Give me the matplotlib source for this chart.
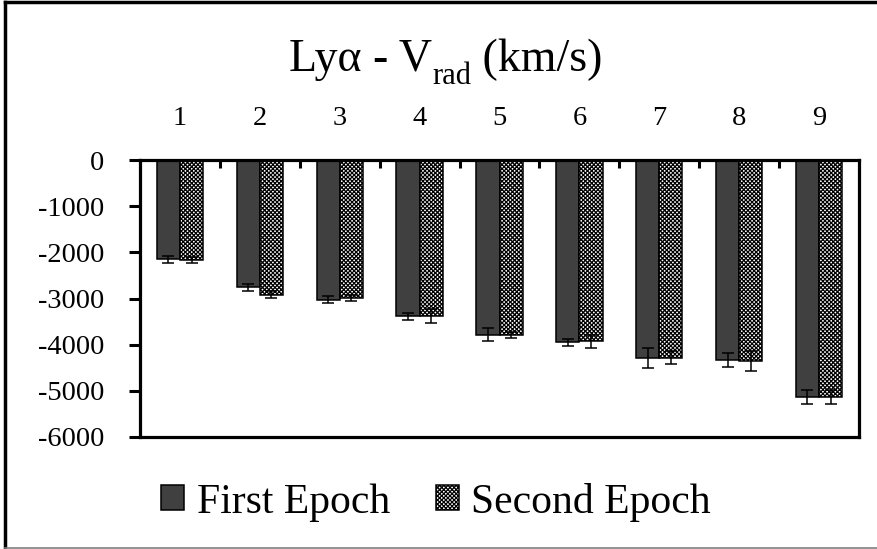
import matplotlib
matplotlib.use("Agg")
import matplotlib.pyplot as plt
import numpy as np
from matplotlib.lines import Line2D

# ── Datos ────────────────────────────────────────────────────────────────────
categorias = ["1", "2", "3", "4", "5", "6", "7", "8", "9"]
primera = [-2150, -2760, -3030, -3380, -3780, -3950, -4280, -4330, -5130]
primera_err = [80, 70, 75, 75, 145, 75, 215, 150, 145]
segunda = [-2170, -2920, -2990, -3370, -3780, -3930, -4280, -4350, -5130]
segunda_err = [70, 75, 70, 150, 65, 150, 145, 215, 145]
yticks = [0, -1000, -2000, -3000, -4000, -5000, -6000]

plt.rcParams["font.family"] = ["Liberation Serif", "DejaVu Serif"]
plt.rcParams["hatch.linewidth"] = 0.9

fig = plt.figure(figsize=(8.77, 5.49), dpi=100)
ax = fig.add_axes([140 / 877, 1 - 437 / 549, 719 / 877, 277 / 549])

x = np.arange(1, len(categorias) + 1)
w = 0.29
err_kw = dict(ecolor="black", elinewidth=1.1, capsize=4.3, capthick=1.1)
ax.bar(x - w / 2, primera, w, yerr=primera_err, color="#404040",
       edgecolor="black", linewidth=1.1, error_kw=err_kw, label="First Epoch")
ax.bar(x + w / 2, segunda, w, yerr=segunda_err, color="white",
       edgecolor="black", linewidth=1.1, hatch="xxxxxxxx", error_kw=err_kw,
       label="Second Epoch")

ax.set_xlim(0.5, len(categorias) + 0.5)
ax.set_ylim(-6000, 0)
ax.set_yticks(yticks)
ax.set_yticklabels([str(v) for v in yticks], fontsize=20.5)
ax.tick_params(axis="y", length=8, width=2.2, pad=18, direction="out")

ax.xaxis.tick_top()
ax.set_xticks(x)
ax.set_xticklabels(categorias, fontsize=20.5)
ax.set_xticks(np.arange(1.5, len(categorias), 1.0), minor=True)
ax.tick_params(axis="x", which="major", length=0, pad=21)
ax.tick_params(axis="x", which="minor", length=6, width=2.2, direction="in")

for s in ax.spines.values():
    s.set_linewidth(2.3)
    s.set_color("black")

# Título en piezas (subíndice "rad")
partes = [("Lyα - V", 33, 0), ("rad", 22, -13), (" (km/s)", 33, 0)]
fig.canvas.draw()
r = fig.canvas.get_renderer()
textos = []
for txt, fs, dy in partes:
    textos.append(fig.text(0, 0, txt, fontsize=fs, ha="left", va="baseline"))
anchos = [t.get_window_extent(r).width for t in textos]
x0 = 446 - sum(anchos) / 2
for t, (txt, fs, dy), a in zip(textos, partes, anchos):
    t.set_transform(fig.dpi_scale_trans)
    t.set_position((x0 / 100, (549 - 71 + dy) / 100))
    x0 += a

# Leyenda
fig.legend(loc="center", bbox_to_anchor=(436 / 877, 1 - 502 / 549), ncol=2,
           frameon=False, fontsize=30, handlelength=0.55, handleheight=0.55,
           handletextpad=0.3, columnspacing=1.1)

# Marco exterior
fig.add_artist(Line2D([5 / 877, 5 / 877], [0.003, 1 - 2 / 549], color="black",
                      lw=2.5, transform=fig.transFigure))
fig.add_artist(Line2D([5 / 877, 1], [1 - 2 / 549, 1 - 2 / 549], color="black",
                      lw=2.5, transform=fig.transFigure))
fig.add_artist(Line2D([5 / 877, 1], [0.002, 0.002], color="#808080",
                      lw=1.2, transform=fig.transFigure))

fig.savefig("out.png", dpi=100)
